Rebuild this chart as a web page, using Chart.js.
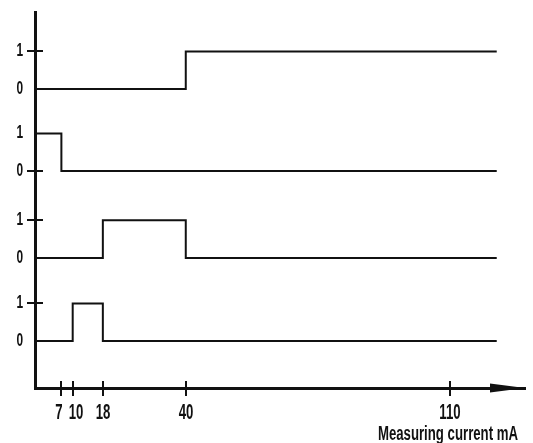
<!DOCTYPE html>
<html>
<head>
<meta charset="utf-8">
<script src="https://cdn.jsdelivr.net/npm/chart.js@4"></script>
<style>
  body { margin: 0; background: #fff; }
  #wrap { width: 533px; height: 443px; }
</style>
</head>
<body>
<div id="wrap"><canvas id="signalChart" width="533" height="443"></canvas></div>
<script>
// switching signals vs measuring current (change points, stepped)
const s1X = [0, 40, 122.5];
const s1Y = [0, 1, 1];
const s2X = [0, 7, 122.5];
const s2Y = [1, 0, 0];
const s3X = [0, 18, 40, 122.5];
const s3Y = [0, 1, 0, 0];
const s4X = [0, 10, 18, 122.5];
const s4Y = [0, 1, 0, 0];

const xTicks = [7, 10, 18, 40, 110];
const levelLabels = ['0', '1'];
const xTitle = 'Measuring current mA';

// layout: vertical base of each row on the y scale, label nudges (px)
const rowBase = [7.95, 5.77, 3.46, 1.25];
const labelNudge = { 7: -2, 10: 3 };

const FONT = '"Liberation Sans", Arial, sans-serif';
const SQUEEZE = 0.6; // condensed look of the original lettering

const rows = [[s1X, s1Y], [s2X, s2Y], [s3X, s3Y], [s4X, s4Y]];

const datasets = rows.map(function (r, k) {
    return {
        data: r[0].map(function (x, i) { return { x: x, y: rowBase[k] + r[1][i] }; }),
        borderColor: '#111',
        borderWidth: 2,
        stepped: 'before',
        pointRadius: 0,
        fill: false
    };
});

function narrowText(ctx, text, x, y, align, size, squeeze) {
    ctx.save();
    ctx.translate(x, y);
    ctx.scale(squeeze || SQUEEZE, 1);
    ctx.font = 'bold ' + size + 'px ' + FONT;
    ctx.textAlign = align;
    ctx.textBaseline = 'alphabetic';
    ctx.fillText(text, 0, 0);
    ctx.restore();
}

const axisDeco = {
    id: 'axisDeco',
    afterDatasetsDraw: function (chart) {
        const ctx = chart.ctx;
        const xs = chart.scales.x;
        const ys = chart.scales.y;
        const x0 = xs.getPixelForValue(0);
        const yAxis = ys.getPixelForValue(0);
        ctx.save();
        ctx.strokeStyle = '#111';
        ctx.fillStyle = '#111';
        ctx.lineWidth = 2;
        // y ticks (where the signal does not start at that level) and labels
        rows.forEach(function (r, k) {
            [0, 1].forEach(function (v) {
                const py = Math.round(ys.getPixelForValue(rowBase[k] + v));
                if (r[1][0] !== v) {
                    ctx.beginPath();
                    ctx.moveTo(x0 - 8, py);
                    ctx.lineTo(x0 + 8, py);
                    ctx.stroke();
                }
                narrowText(ctx, levelLabels[v], x0 - 12, py + 5, 'right', 18, 0.66);
            });
        });
        // x ticks crossing the axis, and labels
        xTicks.forEach(function (v) {
            const px = Math.round(xs.getPixelForValue(v));
            ctx.beginPath();
            ctx.moveTo(px, yAxis - 7);
            ctx.lineTo(px, yAxis + 8);
            ctx.stroke();
            narrowText(ctx, String(v), px + (labelNudge[v] || 0), yAxis + 31, 'center', 22);
        });
        narrowText(ctx, xTitle, xs.right - 7, yAxis + 52, 'right', 20, 0.66);
        // arrow head
        const tip = xs.getPixelForValue(130);
        ctx.beginPath();
        ctx.moveTo(tip - 35, yAxis - 4.5);
        ctx.lineTo(tip, yAxis);
        ctx.lineTo(tip - 35, yAxis + 4.5);
        ctx.closePath();
        ctx.fill();
        ctx.restore();
    }
};

new Chart(document.getElementById('signalChart').getContext('2d'), {
    type: 'line',
    data: { datasets: datasets },
    plugins: [axisDeco],
    options: {
        responsive: false,
        animation: false,
        layout: { padding: { top: 12, right: 8, left: 0, bottom: 0 } },
        plugins: { legend: { display: false }, tooltip: { enabled: false } },
        scales: {
            x: {
                type: 'linear',
                min: 0,
                max: 130,
                grid: { display: false, drawTicks: false },
                border: { display: true, color: '#111', width: 3 },
                ticks: { display: false },
                afterFit: function (scale) { scale.height = 55; }
            },
            y: {
                type: 'linear',
                min: 0,
                max: 10,
                grid: { display: false, drawTicks: false },
                border: { display: true, color: '#111', width: 3 },
                ticks: { display: false },
                afterFit: function (scale) { scale.width = 35; }
            }
        }
    }
});
</script>
</body>
</html>
